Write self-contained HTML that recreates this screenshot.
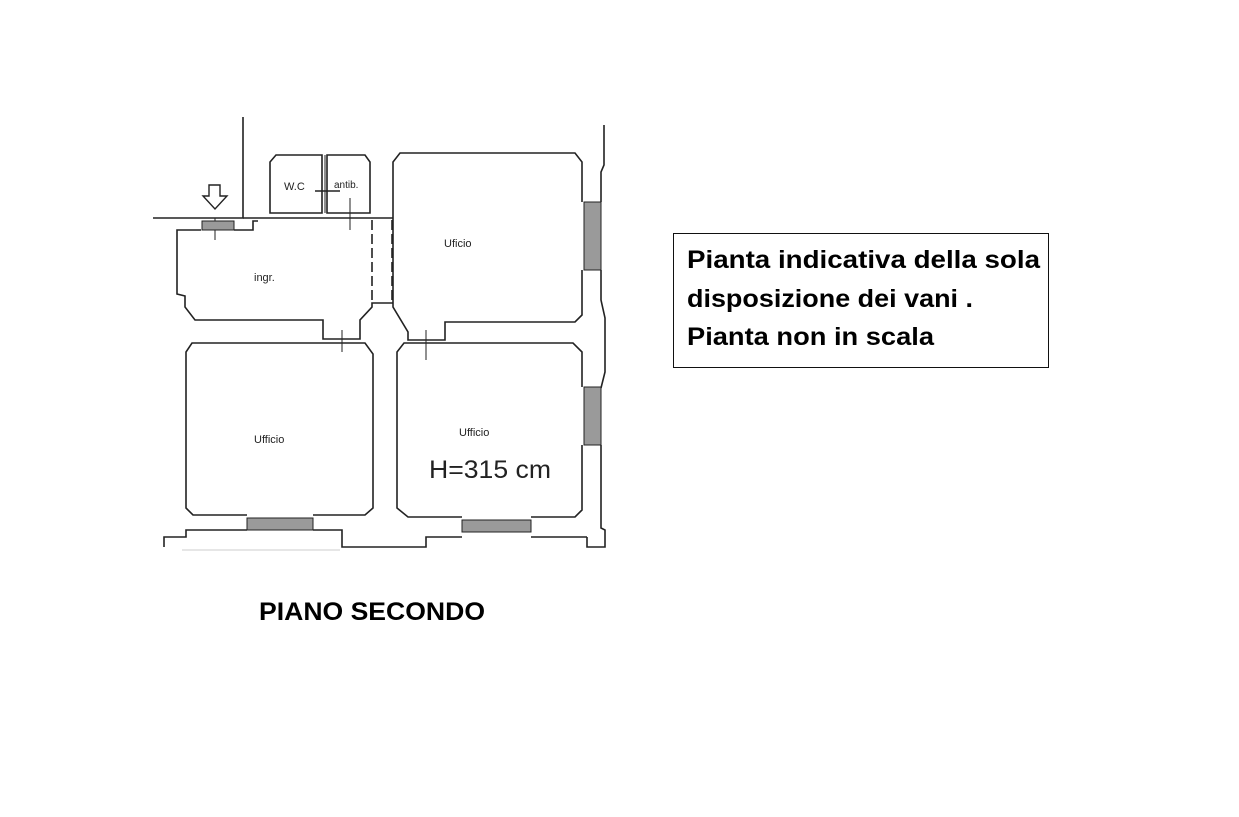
<!DOCTYPE html>
<html><head><style>
html,body{margin:0;padding:0;background:#fff;}
</style></head><body>
<svg width="1239" height="817" viewBox="0 0 1239 817" xmlns="http://www.w3.org/2000/svg" style="display:block">
<g fill="none" stroke="#222" stroke-width="1.6">
<!-- outer left wall/top -->
<path d="M243 117 V218 H153"/>
<path d="M243 218 H393"/>
<!-- WC -->
<path d="M276 155 H322 V213 H270 V162 Z"/>
<path d="M327 155 H365 L370 162 V213 H327 Z"/>
<path d="M315 191 H340"/>
<path d="M322 155 V213 M325 155 V213" stroke-width="1"/>
<!-- arrow -->
<path d="M209 185 H220 V196 H227 L215 209 L203 196 H209 Z" stroke-width="1.4"/>
<!-- ingr -->
<path d="M201 230 H177 V294 L185 296 V307 L195 320 H323 V339 H360 V320 L372 307 V303 H393 M234 230 H253 V221 H258"/>
<path d="M372 220 V302 M392 220 V302" stroke-dasharray="10,4"/>
<!-- top ufficio -->
<path d="M582 202 V162 L575 153 H400 L393 162 V307 L408 332 V340 H445 V322 H575 L582 315 V270"/>
<!-- bottom left ufficio -->
<path d="M313 515 H365 L373 508 V354 L365 343 H192 L186 352 V508 L193 515 H247"/>
<!-- bottom right ufficio -->
<path d="M582 387 V352 L573 343 H404 L397 352 V508 L408 517 H462 M531 517 H575 L582 510 V445"/>
<!-- right outer wall -->
<path d="M604 125 V165 L601 172 V202 M601 270 V300 L605 318 V372 L601 388 M601 445 V528 L605 530 V547 H587 V537"/>
<!-- bottom wall -->
<path d="M164 547 V537 H186 V530 H247 M313 530 H342 V547 H426 V537 H462 M531 537 H587"/>
<path d="M182 550 H340" stroke-width="0.6" stroke="#999"/>
<!-- door ticks -->
<path d="M215 218 V240 M350 198 V230 M342 330 V352 M426 330 V360" stroke-width="1"/>
</g>
<!-- windows -->
<g fill="#9a9a9a" stroke="#222" stroke-width="1">
<rect x="202" y="221" width="32" height="9"/>
<rect x="584" y="202" width="17" height="68"/>
<rect x="584" y="387" width="17" height="58"/>
<rect x="247" y="518" width="66" height="12"/>
<rect x="462" y="520" width="69" height="12"/>
</g>
<g font-family="Liberation Sans, sans-serif" fill="#222">
<text x="284" y="190" font-size="11">W.C</text>
<text x="334" y="188" font-size="10">antib.</text>
<text x="254" y="281" font-size="11">ingr.</text>
<text x="444" y="247" font-size="11">Uficio</text>
<text x="254" y="443" font-size="11">Ufficio</text>
<text x="459" y="436" font-size="11">Ufficio</text>
<text x="429" y="478" font-size="25" textLength="122" lengthAdjust="spacingAndGlyphs">H=315 cm</text>
</g>
<rect x="673.5" y="233.5" width="375" height="134" fill="none" stroke="#111" stroke-width="1"/>
<g font-family="Liberation Sans, sans-serif" font-weight="bold" fill="#000" font-size="25">
<text x="687" y="268" textLength="353" lengthAdjust="spacingAndGlyphs">Pianta indicativa della sola</text>
<text x="687" y="307" textLength="286" lengthAdjust="spacingAndGlyphs">disposizione dei vani .</text>
<text x="687" y="345" textLength="247" lengthAdjust="spacingAndGlyphs">Pianta non in scala</text>
<text x="259" y="620" textLength="226" lengthAdjust="spacingAndGlyphs">PIANO SECONDO</text>
</g>
</svg>
</body></html>
